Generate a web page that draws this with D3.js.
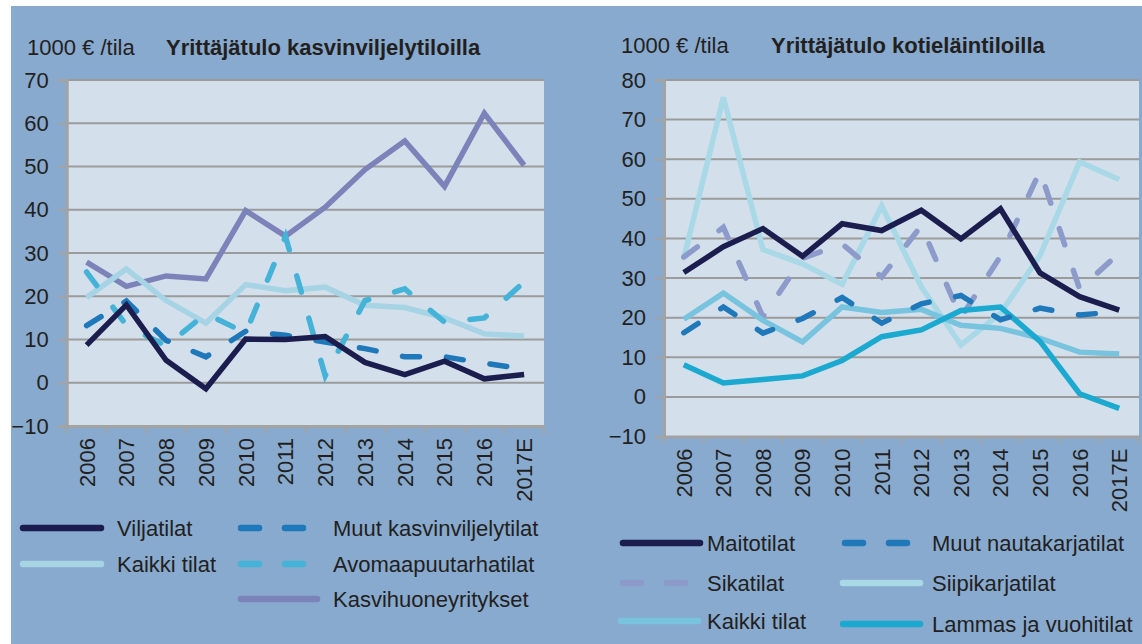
<!DOCTYPE html>
<html><head><meta charset="utf-8">
<script src="https://cdn.jsdelivr.net/npm/d3@7"></script>
<style>
html,body{margin:0;padding:0;background:#fff;}
svg text{font-family:"Liberation Sans Narrow","Arial Narrow","Liberation Sans",sans-serif;fill:#231f20;}
</style></head>
<body>
<svg id="c" width="1142" height="644"></svg>
<script>
// ---------- data ----------
const years = ["2006","2007","2008","2009","2010","2011","2012","2013","2014","2015","2016","2017E"];

const leftTitle = "Yrittäjätulo kasvinviljelytiloilla";
const rightTitle = "Yrittäjätulo kotieläintiloilla";
const unitLabel = "1000 € /tila";

const leftTicks = [-10,0,10,20,30,40,50,60,70];
const rightTicks = [-10,0,10,20,30,40,50,60,70,80];

const viljatilat      = [8.7, 18.0, 5.2, -1.4, 10.1, 10.0, 10.7, 4.7, 1.9, 5.0, 0.9, 1.9];
const kaikkiTilat     = [19.7, 26.3, 19.0, 13.8, 22.7, 21.3, 22.1, 17.9, 17.4, 15.0, 11.3, 10.8];
const muutKasvinv     = [13.2, 18.9, 9.8, 6.0, 11.9, 11.0, 9.4, 7.9, 6.0, 6.0, 4.5, 3.2];
const avomaa          = [25.6, 13.3, 8.5, 16.0, 11.5, 33.8, 1.6, 19.0, 21.7, 14.0, 15.0, 23.3];
const kasvihuone      = [27.9, 22.3, 24.7, 24.0, 39.8, 33.9, 40.6, 49.3, 55.9, 45.4, 62.3, 50.3];

const maitotilat      = [31.4, 37.9, 42.5, 35.5, 43.7, 42.0, 47.1, 39.9, 47.5, 31.3, 25.3, 21.9];
const muutNauta       = [16.2, 22.7, 16.1, 19.8, 25.1, 18.6, 23.5, 25.6, 19.5, 22.4, 20.7, 21.5];
const sikatilat       = [35.3, 42.8, 20.2, 35.0, 38.6, 30.3, 43.2, 20.0, 35.5, 57.0, 27.2, 36.3];
const siipikarja      = [35.0, 75.6, 37.2, 33.6, 28.4, 48.2, 27.8, 13.1, 21.1, 35.7, 59.3, 54.9];
const kaikkiTilat2    = [19.6, 26.2, 19.3, 13.9, 22.7, 21.3, 22.1, 18.1, 17.3, 14.8, 11.3, 10.8];
const lammas          = [8.1, 3.5, 4.4, 5.3, 9.2, 15.2, 16.9, 21.8, 22.7, 14.0, 0.8, -2.9];

const leftNames  = ["Viljatilat","Kaikki tilat","Muut kasvinviljelytilat","Avomaapuutarhatilat","Kasvihuoneyritykset"];
const rightNames = ["Maitotilat","Muut nautakarjatilat","Sikatilat","Siipikarjatilat","Kaikki tilat","Lammas ja vuohitilat"];

// ---------- drawing ----------
const svg = d3.select("#c");
svg.append("rect").attr("x",11).attr("y",6).attr("width",1131).attr("height",638).attr("fill","#87aace");

const DASH = "17,27";

function panel(cfg){
  const g = svg.append("g");
  const x = d3.scaleBand().domain(years).range([cfg.x0,cfg.x1]).padding(0);
  const y = d3.scaleLinear().domain(cfg.domain).range([cfg.yb,cfg.yt]);
  g.append("rect").attr("x",cfg.x0).attr("y",cfg.yt).attr("width",cfg.x1-cfg.x0).attr("height",cfg.yb-cfg.yt).attr("fill","#d3e0ec");
  g.selectAll("line.grid").data(cfg.ticks.filter(t=>t!==cfg.domain[0])).enter().append("line")
    .attr("x1",cfg.x0).attr("x2",cfg.x1).attr("y1",d=>y(d)).attr("y2",d=>y(d))
    .attr("stroke","#9b9b9b").attr("stroke-width",2);
  const ya = d3.axisLeft(y).tickValues(cfg.ticks).tickSize(9).tickPadding(9).tickFormat(d3.format("d"));
  const yg = g.append("g").attr("transform",`translate(${cfg.x0},0)`).call(ya);
  yg.select(".domain").attr("stroke","#a3a3a3").attr("stroke-width",3);
  yg.selectAll(".tick line").attr("stroke","#a3a3a3").attr("stroke-width",2);
  yg.selectAll(".tick text").style("font-size","22px").attr("fill","#231f20");
  const xa = d3.axisBottom(x).tickSize(0).tickPadding(0);
  const xg = g.append("g").attr("transform",`translate(0,${cfg.yb})`).call(xa);
  xg.select(".domain").attr("stroke","#a3a3a3").attr("stroke-width",3);
  xg.selectAll(".tick text").style("font-size","22px").attr("fill","#231f20")
    .attr("text-anchor","end").attr("transform","rotate(-90)")
    .attr("x",-12).attr("y",0).attr("dy","0.36em");
  g.selectAll("line.bt").data(d3.range(years.length+1)).enter().append("line")
    .attr("x1",i=>cfg.x0+i*x.bandwidth()).attr("x2",i=>cfg.x0+i*x.bandwidth())
    .attr("y1",cfg.yb).attr("y2",cfg.yb+7).attr("stroke","#a3a3a3").attr("stroke-width",2);
  const line = d3.line().x((d,i)=>x(years[i])+x.bandwidth()/2).y(d=>y(d));
  cfg.series.forEach(s=>{
    g.append("path").datum(s.values).attr("d",line).attr("fill","none")
      .attr("stroke",s.color).attr("stroke-width",5.5)
      .attr("stroke-linejoin","miter").attr("stroke-linecap",s.dash?"round":"butt")
      .attr("stroke-dasharray",s.dash?DASH:null);
  });
  g.append("text").attr("x",cfg.ux).attr("y",cfg.ty).style("font-size","22px").text(unitLabel);
  g.append("text").attr("x",cfg.tx).attr("y",cfg.ty).style("font-size","22px").style("font-weight","bold").text(cfg.title);
  cfg.legend.forEach(l=>{
    const s = cfg.series.find(d=>d.name===l.name);
    g.append("line").attr("x1",l.x1).attr("x2",l.x2).attr("y1",l.y).attr("y2",l.y)
      .attr("stroke",s.color).attr("stroke-width",6.5).attr("stroke-linecap","round")
      .attr("stroke-dasharray",s.dash?"18,26":null);
    g.append("text").attr("x",l.tx).attr("y",l.y).attr("dy","0.36em").style("font-size","22px").text(s.name);
  });
}

panel({
  x0:66.7, x1:544, yt:80, yb:426, domain:[-10,70], ticks:leftTicks,
  ux:27, tx:166, ty:55, title:leftTitle,
  series:[
    {name:leftNames[4], values:kasvihuone, color:"#7b83b9"},
    {name:leftNames[1], values:kaikkiTilat, color:"#a6d4e4"},
    {name:leftNames[3], values:avomaa, color:"#45b2d7", dash:true},
    {name:leftNames[2], values:muutKasvinv, color:"#1f78b9", dash:true},
    {name:leftNames[0], values:viljatilat, color:"#1b1d4f"}
  ],
  legend:[
    {name:leftNames[0], x1:23, x2:101, y:528, tx:117},
    {name:leftNames[1], x1:23, x2:101, y:564, tx:117},
    {name:leftNames[2], x1:241, x2:307, y:528, tx:333},
    {name:leftNames[3], x1:241, x2:307, y:564, tx:333},
    {name:leftNames[4], x1:241, x2:317, y:599, tx:333}
  ]
});

panel({
  x0:664, x1:1139, yt:80, yb:436.5, domain:[-10,80], ticks:rightTicks,
  ux:621, tx:771, ty:53, title:rightTitle,
  series:[
    {name:rightNames[3], values:siipikarja, color:"#a9d8e7"},
    {name:rightNames[2], values:sikatilat, color:"#8c9bc9", dash:true},
    {name:rightNames[4], values:kaikkiTilat2, color:"#78c3de"},
    {name:rightNames[5], values:lammas, color:"#1ca9d0"},
    {name:rightNames[1], values:muutNauta, color:"#1f78b9", dash:true},
    {name:rightNames[0], values:maitotilat, color:"#1b1d4f"}
  ],
  legend:[
    {name:rightNames[0], x1:623, x2:700, y:543, tx:707},
    {name:rightNames[1], x1:845, x2:910, y:543, tx:932},
    {name:rightNames[2], x1:623, x2:690, y:583, tx:707},
    {name:rightNames[3], x1:843, x2:920, y:583, tx:932},
    {name:rightNames[4], x1:621, x2:698, y:621, tx:707},
    {name:rightNames[5], x1:843, x2:920, y:624, tx:932}
  ]
});
</script>
</body></html>
